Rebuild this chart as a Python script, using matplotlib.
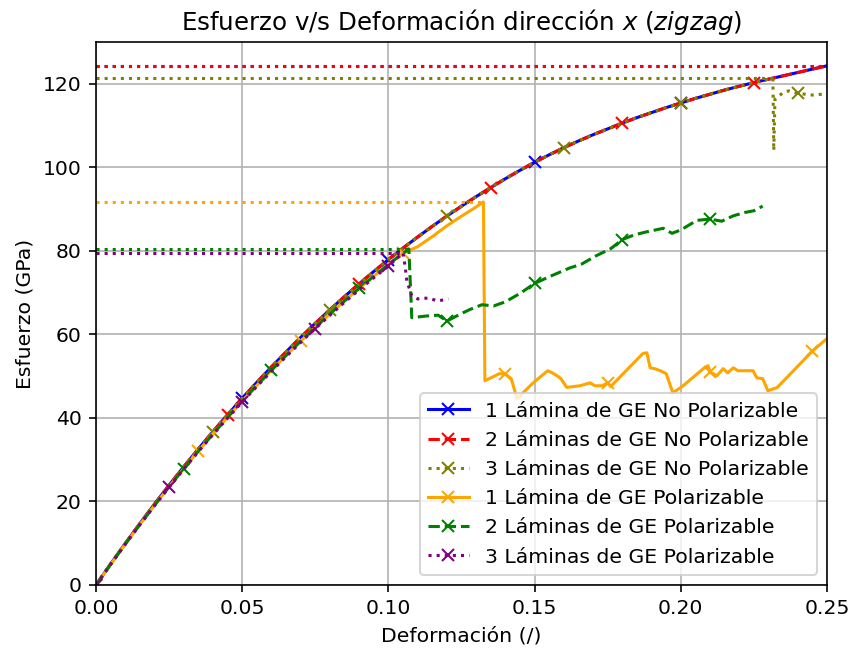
import matplotlib
matplotlib.use("Agg")
import matplotlib.pyplot as plt
import numpy as np

# Deformation grid shared by the pre-rupture branches
strain = np.round(np.arange(0, 0.2501, 0.005), 3)

# Non-polarizable graphene, stress (GPa) on the grid above
stress_np = [
    0.0, 5.03, 9.94, 14.71, 19.36, 23.89, 28.29, 32.57, 36.73, 40.77,
    44.70, 48.51, 52.21, 55.80, 59.28, 62.65, 65.91, 69.06, 72.11, 75.06,
    77.91, 80.66, 83.31, 85.87, 88.33, 90.70, 92.98, 95.16, 97.26, 99.28,
    101.2, 103.0, 104.7, 106.3, 107.8, 109.2, 110.6, 111.9, 113.1, 114.3,
    115.4, 116.5, 117.5, 118.5, 119.4, 120.3, 121.1, 121.9, 122.7, 123.5,
    124.3,
]

# 3 laminas, non-polarizable: tail after 0.23
olive_tail_x = [0.2315, 0.2318, 0.2322, 0.235, 0.237, 0.24, 0.245, 0.25]
olive_tail_y = [121.3, 104.0, 116.3, 117.9, 118.3, 117.7, 117.3, 117.6]

# Polarizable, elastic branch (0 -> 0.105)
stress_pol = [
    0.0, 4.95, 9.79, 14.49, 19.07, 23.53, 27.87, 32.08, 36.18, 40.16,
    44.03, 47.78, 51.43, 54.96, 58.39, 61.71, 64.92, 68.02, 71.03, 73.93,
    76.74, 79.45,
]
stress_pol3 = [
    0.0, 4.93, 9.74, 14.42, 18.97, 23.41, 27.72, 31.92, 36.00, 39.95,
    43.81, 47.54, 51.17, 54.68, 58.09, 61.40, 64.59, 67.68, 70.67, 73.56,
    76.35,
]

orange_tail_x = [
    0.11, 0.115, 0.12, 0.125, 0.13, 0.1325, 0.133, 0.138, 0.14, 0.142,
    0.144, 0.1495, 0.1545, 0.156, 0.1577, 0.159, 0.161, 0.1655, 0.169, 0.1706,
    0.173, 0.175, 0.176, 0.187, 0.1884, 0.1895, 0.191, 0.193, 0.195, 0.1973,
    0.2008, 0.2077, 0.2093, 0.21, 0.2124, 0.2145, 0.216, 0.218, 0.2195, 0.2247,
    0.226, 0.228, 0.2298, 0.233, 0.245, 0.25,
]
orange_tail_y = [
    81.0, 83.4, 86.0, 88.3, 90.5, 91.7, 48.9, 50.6, 50.5, 49.4,
    44.6, 48.4, 51.3, 50.8, 50.1, 49.4, 47.3, 47.7, 48.4, 47.7,
    47.7, 48.4, 47.5, 55.4, 55.6, 52.0, 51.8, 51.3, 50.6, 46.0,
    47.7, 51.8, 52.5, 51.0, 50.1, 51.8, 50.8, 52.0, 51.3, 51.3,
    49.6, 49.4, 46.5, 47.3, 56.0, 59.0,
]

green_tail_x = [
    0.107, 0.108, 0.113, 0.117, 0.12, 0.125, 0.128, 0.132, 0.136, 0.14,
    0.145, 0.15, 0.155, 0.162, 0.166, 0.171, 0.176, 0.18, 0.184, 0.188,
    0.194, 0.197, 0.2, 0.2055, 0.21, 0.214, 0.218, 0.222, 0.225, 0.228,
]
green_tail_y = [
    80.4, 64.0, 64.4, 64.6, 63.2, 65.0, 66.0, 67.1, 66.8, 67.8,
    69.8, 72.2, 73.8, 75.9, 76.8, 78.8, 80.5, 82.7, 83.8, 84.5,
    85.4, 84.2, 85.0, 87.3, 87.6, 87.1, 88.4, 89.2, 89.6, 90.7,
]

purple_tail_x = [0.105, 0.1057, 0.1063, 0.108, 0.11, 0.1135, 0.117, 0.1205]
purple_tail_y = [79.5, 76.4, 72.8, 69.2, 68.5, 68.7, 68.0, 68.5]

labels = [
    "1 Lámina de GE No Polarizable",
    "2 Láminas de GE No Polarizable",
    "3 Láminas de GE No Polarizable",
    "1 Lámina de GE Polarizable",
    "2 Láminas de GE Polarizable",
    "3 Láminas de GE Polarizable",
]
colors = ["blue", "red", "olive", "orange", "green", "purple"]
styles = ["-", "--", ":", "-", "--", ":"]
mark_steps = [0.05, 0.045, 0.04, 0.035, 0.03, 0.025]

series = [
    (strain, np.array(stress_np)),
    (strain, np.array(stress_np)),
    (np.concatenate([strain[:47], olive_tail_x]),
     np.concatenate([stress_np[:47], olive_tail_y])),
    (np.concatenate([strain[:22], orange_tail_x]),
     np.concatenate([stress_pol, orange_tail_y])),
    (np.concatenate([strain[:22], green_tail_x]),
     np.concatenate([stress_pol, green_tail_y])),
    (np.concatenate([strain[:21], purple_tail_x]),
     np.concatenate([stress_pol3, purple_tail_y])),
]

fig = plt.figure(figsize=(852 / 147, 650 / 147), dpi=147)
ax = fig.add_subplot(111)
fig.subplots_adjust(left=96 / 852, right=827 / 852, bottom=1 - 585 / 650, top=1 - 42 / 650)

for (x, y), lab, c, ls, step in zip(series, labels, colors, styles, mark_steps):
    marks = [i for i, v in enumerate(x)
             if abs(v / step - round(v / step)) < 1e-6 and v < 0.2499]
    ax.plot(x, y, linestyle=ls, color=c, marker="x", markevery=marks, label=lab)

# Dotted guide at the rupture stress (peak before the first big drop)
for (x, y), c in zip(series, colors):
    drops = np.where(np.diff(y) < -5)[0]
    k = int(drops[0]) if len(drops) else int(np.argmax(y))
    ax.hlines(y[k], 0, x[k], colors=c, linestyles=":")

ax.set_xlim(0, 0.25)
ax.set_ylim(0, 130)
ax.grid(True)
ax.set_title("Esfuerzo v/s Deformación dirección $x$ ($zigzag$)")
ax.set_xlabel("Deformación (/)")
ax.set_ylabel("Esfuerzo (GPa)")
ax.legend(loc="lower right")

fig.savefig("out.png", dpi=147)
